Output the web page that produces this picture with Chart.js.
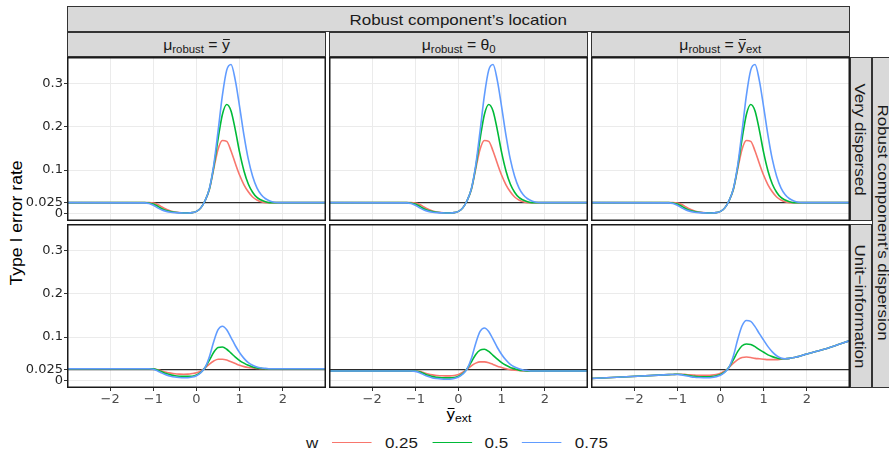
<!DOCTYPE html>
<html>
<head>
<meta charset="utf-8">
<script src="https://cdn.jsdelivr.net/npm/chart.js@4.4.1/dist/chart.umd.min.js"></script>
<style>
  html, body { margin: 0; padding: 0; background: #fff; }
  #fig { position: relative; width: 889px; height: 450px; overflow: hidden;
         font-family: "Liberation Sans", Arial, sans-serif; color: #1a1a1a; }
  #fig canvas { position: absolute; }
  .strip { position: absolute; box-sizing: border-box; background: #d9d9d9; border: 1px solid #333;
           display: flex; align-items: center; justify-content: center; font-size: 15px;
           color: #1a1a1a; white-space: nowrap; }
  .strip.col { font-size: 14px; }
  .sx { display: inline-block; transform: scaleX(1.13); }
  .rot { display: inline-block; transform: rotate(90deg) scaleX(1.13); }
  .rotl { display: inline-block; transform: rotate(-90deg) scaleX(1.1); }
  sub { font-size: 0.72em; vertical-align: -0.3em; line-height: 0; }
  .ov { position: relative; display: inline-block; }
  .ov::before { content: ''; position: absolute; left: 0.04em; right: 0.04em; top: 0.2em;
                border-top: 1px solid currentColor; }
  .label { position: absolute; display: flex; align-items: center; justify-content: center;
           white-space: nowrap; font-size: 15px; color: #000; }
  .label.ytitle { font-size: 16px; }
  #legend { position: absolute; left: 306px; top: 431px; height: 22px; display: flex;
            align-items: center; font-size: 15px; color: #1a1a1a; white-space: nowrap;
            transform: scaleX(1.13); transform-origin: left center; }
  #legend .key { width: 35px; height: 0; border-top: 1.6px solid; margin-right: 11.5px; }
  #legend .txt { margin-right: 12.5px; }
</style>
</head>
<body>
<div id="fig"></div>
<script>
// x grid of the curves (flat outside roughly -1.2 .. 2)
const xs = [-3, -1.2, -1.1, -1.0, -0.9, -0.8, -0.7, -0.6, -0.5, -0.4, -0.3, -0.2, -0.1, 0,
  0.1, 0.2, 0.3, 0.4, 0.5, 0.6, 0.7, 0.8, 0.9, 1.0, 1.1, 1.2, 1.3, 1.4, 1.5, 1.6, 1.7, 1.8,
  1.9, 2.0, 2.5, 3];

// Very dispersed robust component (same in all three columns)
const veryDispersed25 = [0.025, 0.025, 0.025, 0.024, 0.021, 0.015, 0.010, 0.006, 0.0035, 0.002,
  0.0015, 0.0015, 0.002, 0.005, 0.013, 0.030, 0.056, 0.103, 0.148, 0.168, 0.166, 0.144, 0.115,
  0.088, 0.066, 0.050, 0.038, 0.031, 0.027, 0.025, 0.025, 0.025, 0.025, 0.025, 0.025, 0.025];
const veryDispersed50 = [0.025, 0.025, 0.024, 0.022, 0.017, 0.011, 0.007, 0.0045, 0.0028, 0.0018,
  0.0015, 0.0015, 0.002, 0.005, 0.013, 0.030, 0.057, 0.108, 0.172, 0.228, 0.251, 0.236, 0.192,
  0.140, 0.098, 0.068, 0.049, 0.037, 0.031, 0.027, 0.025, 0.025, 0.025, 0.025, 0.025, 0.025];
const veryDispersed75 = [0.025, 0.0245, 0.023, 0.019, 0.013, 0.008, 0.005, 0.003, 0.002, 0.0015,
  0.0013, 0.0013, 0.002, 0.005, 0.013, 0.030, 0.058, 0.112, 0.190, 0.272, 0.330, 0.343, 0.306,
  0.245, 0.180, 0.125, 0.086, 0.059, 0.043, 0.034, 0.029, 0.026, 0.025, 0.025, 0.025, 0.025];

// Unit-information, mu_robust = ybar
const unitYbar25 = [0.027, 0.027, 0.027, 0.027, 0.025, 0.022, 0.019, 0.017, 0.0155, 0.0148,
  0.0145, 0.0147, 0.016, 0.018, 0.022, 0.029, 0.038, 0.045, 0.049, 0.049, 0.047, 0.043, 0.039,
  0.035, 0.032, 0.030, 0.029, 0.028, 0.027, 0.027, 0.027, 0.027, 0.027, 0.027, 0.027, 0.027];
const unitYbar50 = [0.027, 0.027, 0.027, 0.027, 0.024, 0.020, 0.016, 0.013, 0.011, 0.010,
  0.0095, 0.0095, 0.010, 0.013, 0.019, 0.030, 0.047, 0.065, 0.076, 0.077, 0.072, 0.063, 0.054,
  0.046, 0.040, 0.035, 0.031, 0.029, 0.028, 0.027, 0.027, 0.027, 0.027, 0.027, 0.027, 0.027];
const unitYbar75 = [0.027, 0.027, 0.027, 0.026, 0.022, 0.017, 0.013, 0.010, 0.008, 0.007,
  0.0065, 0.0065, 0.008, 0.011, 0.018, 0.030, 0.055, 0.090, 0.117, 0.125, 0.117, 0.099, 0.080,
  0.064, 0.051, 0.041, 0.035, 0.031, 0.029, 0.028, 0.027, 0.027, 0.027, 0.027, 0.027, 0.027];

// Unit-information, mu_robust = theta0
const unitTheta25 = [0.022, 0.022, 0.022, 0.022, 0.021, 0.018, 0.015, 0.013, 0.0115, 0.011,
  0.0106, 0.0106, 0.0115, 0.014, 0.019, 0.026, 0.034, 0.040, 0.043, 0.043, 0.041, 0.037, 0.033,
  0.030, 0.027, 0.025, 0.024, 0.023, 0.022, 0.022, 0.022, 0.022, 0.022, 0.022, 0.022, 0.022];
const unitTheta50 = [0.022, 0.022, 0.022, 0.022, 0.020, 0.016, 0.012, 0.009, 0.0075, 0.0065,
  0.006, 0.006, 0.007, 0.010, 0.016, 0.027, 0.043, 0.060, 0.070, 0.072, 0.067, 0.058, 0.049,
  0.041, 0.035, 0.030, 0.027, 0.024, 0.023, 0.022, 0.022, 0.022, 0.022, 0.022, 0.022, 0.022];
const unitTheta75 = [0.022, 0.022, 0.022, 0.021, 0.018, 0.013, 0.009, 0.006, 0.0045, 0.0035,
  0.003, 0.003, 0.0045, 0.008, 0.015, 0.027, 0.051, 0.086, 0.113, 0.121, 0.113, 0.095, 0.076,
  0.060, 0.047, 0.037, 0.031, 0.027, 0.024, 0.023, 0.022, 0.022, 0.022, 0.022, 0.022, 0.022];

// Unit-information, mu_robust = ybar_ext
const unitExt25 = [0.0046, 0.0135, 0.014, 0.0145, 0.0145, 0.0138, 0.013, 0.0125, 0.012, 0.012,
  0.012, 0.0125, 0.014, 0.017, 0.022, 0.030, 0.040, 0.048, 0.053, 0.054, 0.053, 0.051, 0.050,
  0.049, 0.048, 0.048, 0.048, 0.049, 0.050, 0.051, 0.053, 0.055, 0.058, 0.061, 0.075, 0.092];
const unitExt50 = [0.0046, 0.0135, 0.014, 0.0145, 0.014, 0.0125, 0.011, 0.0095, 0.0088, 0.0085,
  0.0085, 0.009, 0.011, 0.014, 0.020, 0.031, 0.048, 0.067, 0.080, 0.084, 0.083, 0.078, 0.071,
  0.065, 0.059, 0.055, 0.052, 0.050, 0.050, 0.051, 0.053, 0.055, 0.058, 0.061, 0.075, 0.092];
const unitExt75 = [0.0046, 0.0135, 0.014, 0.014, 0.013, 0.011, 0.009, 0.0075, 0.0068, 0.0065,
  0.0065, 0.007, 0.009, 0.012, 0.019, 0.031, 0.057, 0.095, 0.126, 0.138, 0.136, 0.124, 0.108,
  0.093, 0.078, 0.066, 0.057, 0.052, 0.050, 0.051, 0.053, 0.055, 0.058, 0.061, 0.075, 0.092];

const wLevels = ['0.25', '0.5', '0.75'];
const wColors = ['#F8766D', '#00BA38', '#619CFF'];
const yTicks = [0, 0.025, 0.1, 0.2, 0.3];
const xTicks = [-2, -1, 0, 1, 2];
const refRate = 0.025;
const xLimits = [-3, 3];
const yLimits = [-0.0172, 0.3602];

const colTitle = 'Robust component\u2019s location';
const rowTitle = 'Robust component\u2019s dispersion';
const colLabels = [
  '\u03bc<sub>robust</sub> = <span class="ov">y</span>',
  '\u03bc<sub>robust</sub> = \u03b8<sub>0</sub>',
  '\u03bc<sub>robust</sub> = <span class="ov">y</span><sub>ext</sub>'
];
const rowLabels = ['Very dispersed', 'Unit\u2212information'];

// rows x cols
const panelSeries = [
  [[veryDispersed25, veryDispersed50, veryDispersed75],
   [veryDispersed25, veryDispersed50, veryDispersed75],
   [veryDispersed25, veryDispersed50, veryDispersed75]],
  [[unitYbar25, unitYbar50, unitYbar75],
   [unitTheta25, unitTheta50, unitTheta75],
   [unitExt25, unitExt50, unitExt75]]
];

// layout (pixels)
const PX0 = 67, PW = 259, PGX = 3;
const PY0 = 57, PH = 164, PGY = 3;
const XAXIS_H = 22;
const colLeft = c => PX0 + c * (PW + PGX);
const rowTop = r => PY0 + r * (PH + PGY);

const fig = document.getElementById('fig');

function addDiv(cls, style, html) {
  const d = document.createElement('div');
  d.className = cls;
  Object.assign(d.style, style);
  d.innerHTML = html;
  fig.appendChild(d);
  return d;
}

// strips
const gridRight = colLeft(2) + PW;
const gridBottom = rowTop(1) + PH;
addDiv('strip', { left: PX0 + 'px', top: '6px', width: (gridRight - PX0) + 'px', height: '26px' },
  `<span class="sx">${colTitle}</span>`);
colLabels.forEach((lab, c) => {
  addDiv('strip col', { left: colLeft(c) + 'px', top: '32px', width: PW + 'px', height: '25px' },
    `<span class="sx">${lab}</span>`);
});
rowLabels.forEach((lab, r) => {
  addDiv('strip', { left: gridRight + 'px', top: rowTop(r) + 'px', width: '22px', height: PH + 'px' },
    `<span class="rot">${lab}</span>`);
});
addDiv('strip', { left: (gridRight + 22) + 'px', top: PY0 + 'px', width: '22px', height: (gridBottom - PY0) + 'px' },
  `<span class="rot">${rowTitle}</span>`);

// axis titles
addDiv('label ytitle', { left: '0px', top: PY0 + 'px', width: '34px', height: (gridBottom - PY0) + 'px' },
  '<span class="rotl">Type I error rate</span>');
addDiv('label', { left: colLeft(1) + 'px', top: '404px', width: PW + 'px', height: '18px' },
  '<span class="sx"><span class="ov">y</span><sub>ext</sub></span>');

// legend
const legend = document.createElement('div');
legend.id = 'legend';
let lh = '<span class="txt">w</span>';
wLevels.forEach((lv, i) => {
  lh += `<span class="key" style="border-color:${wColors[i]}"></span><span class="txt">${lv}</span>`;
});
legend.innerHTML = lh;
fig.appendChild(legend);

// outline of each panel
const panelBorder = {
  id: 'panelBorder',
  afterDraw(chart) {
    const { ctx, chartArea: a } = chart;
    ctx.save();
    ctx.strokeStyle = '#1a1a1a';
    ctx.lineWidth = 1.5;
    ctx.strokeRect(a.left + 0.75, a.top + 0.75, a.width - 1.5, a.height - 1.5);
    ctx.restore();
  }
};

const fmtX = v => (v < 0 ? '\u2212' + Math.abs(v) : String(v));

function makePanel(r, c) {
  const showY = c === 0;
  const showX = r === 1;
  const canvas = document.createElement('canvas');
  const left = showY ? 0 : colLeft(c);
  const width = colLeft(c) + PW - left;
  const height = PH + (showX ? XAXIS_H : 0);
  canvas.width = width;
  canvas.height = height;
  canvas.style.left = left + 'px';
  canvas.style.top = rowTop(r) + 'px';
  fig.appendChild(canvas);

  const datasets = [{
    data: [{ x: xLimits[0], y: refRate }, { x: xLimits[1], y: refRate }],
    borderColor: '#2b2b2b',
    borderWidth: 1.4,
    order: 4
  }];
  panelSeries[r][c].forEach((vals, i) => {
    datasets.push({
      label: wLevels[i],
      data: xs.map((x, k) => ({ x: x, y: vals[k] })),
      borderColor: wColors[i],
      borderWidth: 1.6,
      cubicInterpolationMode: 'monotone',
      order: 3 - i
    });
  });

  new Chart(canvas, {
    type: 'line',
    data: { datasets },
    plugins: [panelBorder],
    options: {
      responsive: false,
      animation: false,
      events: [],
      layout: { padding: 0 },
      elements: { point: { radius: 0 } },
      plugins: { legend: { display: false }, tooltip: { enabled: false } },
      scales: {
        x: {
          type: 'linear',
          min: xLimits[0],
          max: xLimits[1],
          afterBuildTicks: s => { s.ticks = xTicks.map(v => ({ value: v })); },
          afterFit: s => {
            s.height = showX ? XAXIS_H : 0;
            s.paddingLeft = 0; s.paddingRight = 0;
          },
          border: { display: false },
          grid: { color: '#EBEBEB', lineWidth: 1, drawTicks: showX, tickLength: 3, tickColor: '#333333' },
          ticks: {
            display: showX, autoSkip: false, maxRotation: 0, padding: 1,
            color: '#4D4D4D', font: { family: 'DejaVu Sans', size: 13 },
            callback: v => fmtX(v)
          }
        },
        y: {
          type: 'linear',
          min: yLimits[0],
          max: yLimits[1],
          afterBuildTicks: s => { s.ticks = yTicks.map(v => ({ value: v })); },
          afterFit: s => {
            s.width = showY ? PX0 : 0;
            s.paddingTop = 0; s.paddingBottom = 0;
          },
          border: { display: false },
          grid: { color: '#EBEBEB', lineWidth: 1, drawTicks: showY, tickLength: 3, tickColor: '#333333' },
          ticks: {
            display: showY, autoSkip: false, padding: 1,
            color: '#262626', font: { family: 'DejaVu Sans', size: 13 },
            callback: v => String(v)
          }
        }
      }
    }
  });
}

for (let r = 0; r < 2; r++) {
  for (let c = 0; c < 3; c++) makePanel(r, c);
}
</script>
</body>
</html>
